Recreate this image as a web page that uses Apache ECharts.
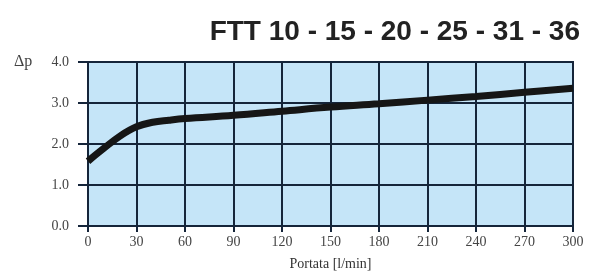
<!DOCTYPE html>
<html>
<head>
<meta charset="utf-8">
<script src="https://cdn.jsdelivr.net/npm/echarts@6/dist/echarts.min.js"></script>
<style>
  html, body { margin: 0; padding: 0; background: #fff; }
  #chart { width: 591px; height: 275px; }
</style>
</head>
<body>
<div id="chart"></div>
<script>
  // dati
  var portata = [0, 10, 20, 30, 40, 50, 60, 90, 120, 150, 180, 210, 240, 270, 300];
  var deltaP = [1.58, 1.9, 2.2, 2.42, 2.53, 2.58, 2.62, 2.7, 2.8, 2.9, 2.98, 3.07, 3.16, 3.26, 3.36];
  var titolo = 'FTT 10 - 15 - 20 - 25 - 31 - 36';

  var punti = portata.map(function (x, i) { return [x, deltaP[i]]; });
  var gridColor = '#15253a';

  var myChart = echarts.init(document.getElementById('chart'));
  myChart.setOption({
    animation: false,
    title: {
      text: titolo,
      right: 6,
      top: 13,
      textStyle: {
        fontFamily: 'Liberation Sans, sans-serif',
        fontWeight: 'bold',
        fontSize: 28,
        color: '#222'
      }
    },
    grid: {
      left: 88, right: 18, top: 62, bottom: 49,
      outerBoundsMode: 'none',
      containLabel: false,
      show: true,
      backgroundColor: '#c5e5f8',
      borderColor: gridColor,
      borderWidth: 2
    },
    xAxis: {
      type: 'value',
      min: 0, max: 300, interval: 30,
      name: 'Portata [l/min]',
      nameLocation: 'middle',
      nameGap: 31,
      nameTextStyle: { fontFamily: 'Liberation Serif, serif', fontSize: 14, color: '#333' },
      axisLine: { show: true, lineStyle: { color: gridColor, width: 2 } },
      axisTick: { show: true, length: 6, lineStyle: { color: gridColor, width: 2 } },
      axisLabel: { fontFamily: 'Liberation Serif, serif', fontSize: 14, color: '#444', margin: 9 },
      splitLine: { show: true, lineStyle: { color: gridColor, width: 2 } }
    },
    yAxis: {
      type: 'value',
      min: 0, max: 4, interval: 1,
      axisLine: { show: true, lineStyle: { color: gridColor, width: 2 } },
      axisTick: { show: true, length: 10, lineStyle: { color: gridColor, width: 2 } },
      axisLabel: {
        fontFamily: 'Liberation Serif, serif', fontSize: 14, color: '#444', margin: 19,
        formatter: function (v) { return v.toFixed(1); }
      },
      splitLine: { show: true, lineStyle: { color: gridColor, width: 2 } }
    },
    graphic: [{
      type: 'text',
      left: 14, top: 54,
      style: { text: 'Δp', font: '16px Liberation Serif, serif', fill: '#444' }
    }],
    series: [{
      type: 'line',
      data: punti,
      smooth: 0.4,
      showSymbol: false,
      lineStyle: { color: '#161616', width: 7 }
    }]
  });
</script>
</body>
</html>
